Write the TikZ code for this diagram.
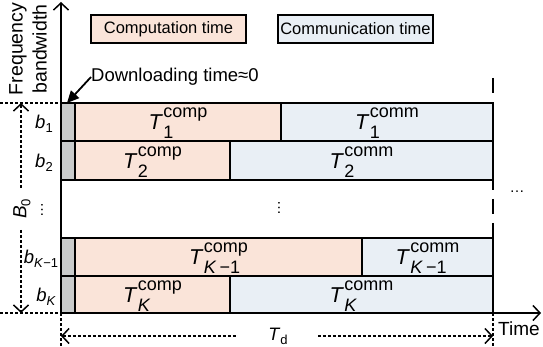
\documentclass[tikz,border=0pt]{standalone}
\usepackage{fontspec}
\setmainfont{Liberation Sans}
\usetikzlibrary{arrows.meta}
\definecolor{compc}{HTML}{FAE4D9}
\definecolor{commc}{HTML}{E9EFF5}
\definecolor{dlc}{HTML}{C9CBCB}
\newcommand\lsub[1]{\raisebox{-4pt}{\fontsize{13}{13}\selectfont #1}}
\newcommand\TL[2]{\textit{T}\kern0.5pt\raisebox{-9pt}{\fontsize{18}{21}\selectfont\begin{tabular}[b]{@{}l@{}}#1\\#2\end{tabular}}}
\newcommand\rowfill[3]{%
  \fill[dlc] (61,#1) rectangle (75,#2);
  \fill[compc] (75,#1) rectangle (#3,#2);
  \fill[commc] (#3,#1) rectangle (493,#2);
  \draw[divl] (75,#1) -- (75,#2) (#3,#1) -- (#3,#2);
  \draw[rowl] (61,#1) rectangle (493,#2);
}
\tikzset{
  barb/.tip={Straight Barb[length=7pt,width=15pt,line width=1.5pt]},
  axisl/.style={line width=1.5pt,-barb},
  dotl/.style={line width=1.2pt,dash pattern=on 3pt off 2pt},
  divl/.style={line width=1.5pt},
  rowl/.style={line width=2.2pt},
  legbox/.style={draw,line width=1.5pt,inner sep=0pt,minimum width=155pt,minimum height=28pt,font=\fontsize{16.5}{19}\selectfont},
  tlab/.style={anchor=base,inner sep=0pt,font=\fontsize{21.5}{25}\selectfont},
  blab/.style={anchor=base,inner sep=0pt,font=\fontsize{18.5}{21}\selectfont},
}
\begin{document}
\begin{tikzpicture}[x=1pt,y=-1pt]
\useasboundingbox (0,0) rectangle (543,347);
% legend
\node[legbox,fill=compc] (lcomp) at (168.5,29) {Computation time};
\node[legbox,fill=commc] (lcomm) at (355.5,29) {Communication time};
% rows
\rowfill{103}{141}{281}
\rowfill{141}{180}{230}
\rowfill{238}{276}{362}
\rowfill{276}{313}{230}
% row labels
\node[tlab] (c1) at (178,130) {\TL{comp}{1}};
\node[tlab] (m1) at (387,130) {\TL{comm}{1}};
\node[tlab] (c2) at (152.5,168.5) {\TL{comp}{2}};
\node[tlab] (m2) at (361.5,168.5) {\TL{comm}{2}};
\node[tlab] (c3) at (218.5,265) {\TL{comp}{\textit{K}\,−1}};
\node[tlab] (m3) at (427.5,265) {\TL{comm}{\textit{K}\,−1}};
\node[tlab] (c4) at (152.5,302.5) {\TL{comp}{\textit{K}}};
\node[tlab] (m4) at (361.5,302.5) {\TL{comm}{\textit{K}}};
% right boundary dashes
\draw[divl] (493,78) -- (493,93);
\draw[divl,dash pattern=on 10pt off 9pt on 15pt off 9pt on 15pt] (493,180) -- (493,238);
% axes
\coordinate (O) at (61,313);
\coordinate (ytop) at (61,2);
\coordinate (xend) at (541,313);
\draw[axisl] (O) -- (ytop);
\draw[axisl] (O) -- (xend);
% dotted guides
\draw[dotl] (0,103) -- (61,103);
\draw[dotl] (0,313) -- (61,313);
\draw[dotl] (61,313) -- (61,346);
\draw[dotl] (493,313) -- (493,346);
% B0 arrow
\draw[dotl,barb-barb] (21,103) -- (21,313);
\node[rotate=90,fill=white,inner xsep=10pt,inner ysep=1pt,font=\fontsize{19}{21}\selectfont] (B0) at (22,209) {\textit{B}\lsub{0}};
\node[rotate=90,inner sep=0pt,font=\fontsize{15}{15}\selectfont] (vd1) at (42,210) {…};
% b labels
\node[blab] (b1) at (44,129) {\textit{b}\lsub{1}};
\node[blab] (b2) at (44,167.5) {\textit{b}\lsub{2}};
\node[blab] (b3) at (41,264) {\textit{b}\lsub{\textit{K}−1}};
\node[blab] (b4) at (46,301.5) {\textit{b}\lsub{\textit{K}}};
% middle dots
\node[rotate=90,inner sep=0pt,font=\fontsize{15}{15}\selectfont] (vd2) at (279,208) {…};
\node[inner sep=0pt,font=\fontsize{15}{15}\selectfont] (hd) at (517,192) {…};
% Td arrow
\draw[dotl,barb-barb] (61,336) -- (493,336);
\node[fill=white,inner xsep=30pt,inner ysep=2pt,font=\fontsize{18}{21}\selectfont] (Td) at (278,336) {\textit{T}\lsub{d}};
% Time label
\node[inner sep=0pt,font=\fontsize{19}{22}\selectfont] (time) at (519,329) {Time};
% y label
\node[rotate=90,align=center,inner sep=0pt,font=\fontsize{19.5}{24}\selectfont] (ylab) at (28,49) {Frequency\\bandwidth};
% downloading
\coordinate (g1top) at (67,103);
\node[anchor=west,inner sep=0pt,font=\fontsize{18.5}{22}\selectfont] (dl) at (91,77) {Downloading time≈0};
\draw[line width=1.8pt,-{Triangle[length=12pt,width=11pt]}] (dl.west) -- (g1top);
\end{tikzpicture}
\end{document}
